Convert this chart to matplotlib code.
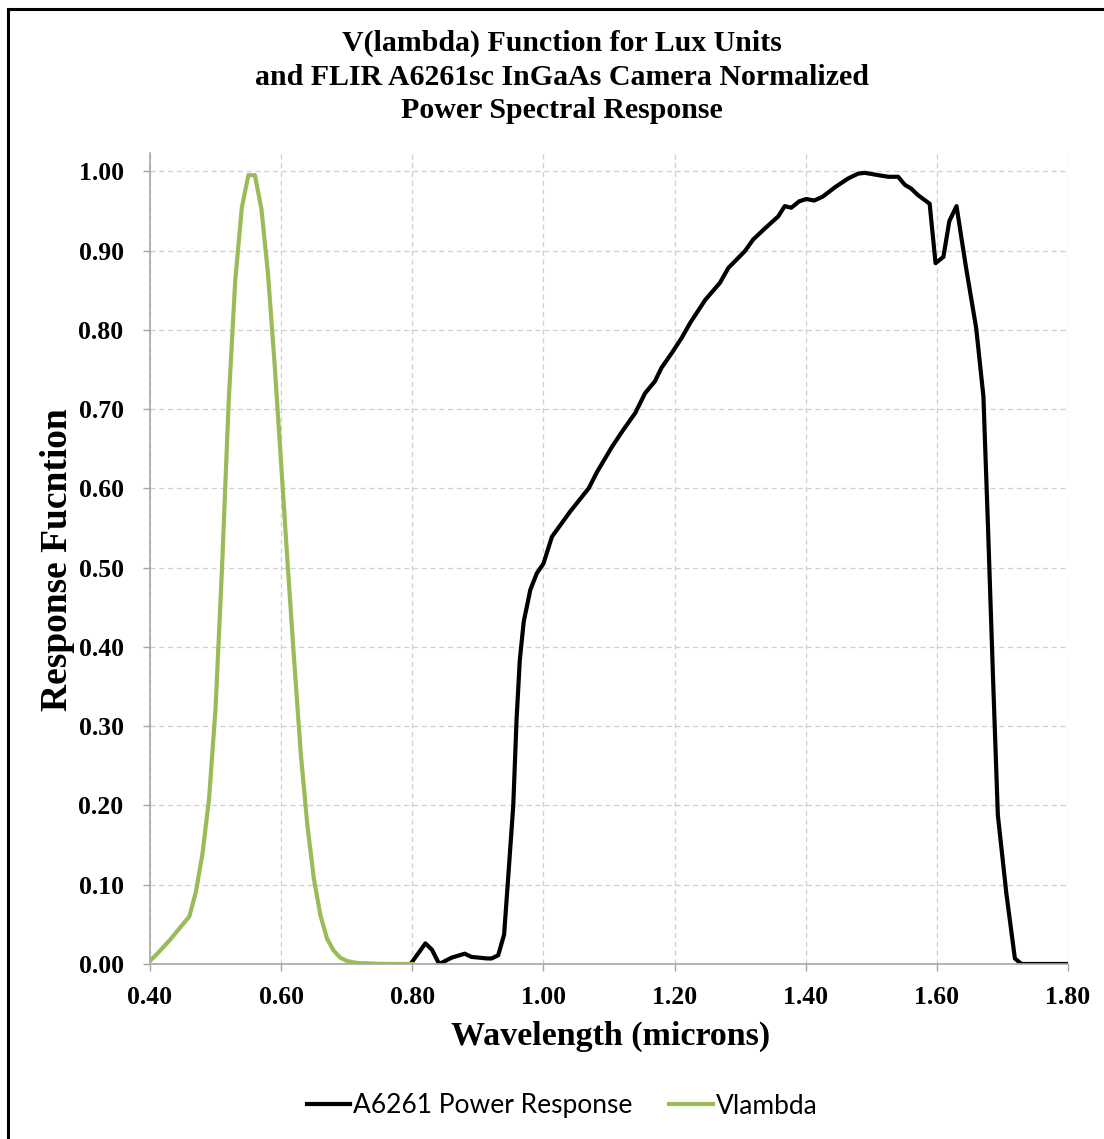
import matplotlib
matplotlib.use("Agg")
import matplotlib.pyplot as plt
from matplotlib.patches import Rectangle

# CIE photopic V(lambda), wavelength in microns
vl_wave = [0.40, 0.41, 0.42, 0.43, 0.44, 0.45, 0.46, 0.47, 0.48, 0.49,
           0.50, 0.51, 0.52, 0.53, 0.54, 0.55, 0.56, 0.57, 0.58, 0.59,
           0.60, 0.61, 0.62, 0.63, 0.64, 0.65, 0.66, 0.67, 0.68, 0.69,
           0.70, 0.71, 0.72, 0.73, 0.74, 0.75, 0.76, 0.77, 0.78, 0.79, 0.80]
vl_resp = [0.004, 0.012, 0.021, 0.030, 0.040, 0.050, 0.060, 0.091, 0.139, 0.208,
           0.323, 0.503, 0.710, 0.862, 0.954, 0.995, 0.995, 0.952, 0.870, 0.757,
           0.631, 0.503, 0.381, 0.265, 0.175, 0.107, 0.061, 0.032, 0.017, 0.008,
           0.004, 0.002, 0.001, 0.001, 0.0005, 0.0002, 0.0001, 0.0, 0.0, 0.0, 0.0]

# FLIR A6261 normalized power response
cam_wave = [0.800, 0.820, 0.830, 0.841, 0.860, 0.880, 0.890, 0.914, 0.921, 0.931,
            0.940, 0.946, 0.954, 0.959, 0.964, 0.970, 0.980, 0.990, 1.000, 1.013,
            1.041, 1.069, 1.082, 1.105, 1.122, 1.140, 1.155, 1.170, 1.180, 1.196,
            1.211, 1.224, 1.247, 1.269, 1.282, 1.307, 1.320, 1.338, 1.358, 1.368,
            1.378, 1.390, 1.401, 1.413, 1.426, 1.445, 1.465, 1.480, 1.490, 1.511,
            1.526, 1.541, 1.551, 1.561, 1.571, 1.589, 1.598, 1.610, 1.619, 1.630,
            1.644, 1.660, 1.671, 1.678, 1.686, 1.693, 1.706, 1.719, 1.729, 1.800]
cam_resp = [0.003, 0.026, 0.018, 0.000, 0.008, 0.013, 0.009, 0.007, 0.007, 0.011,
            0.037, 0.106, 0.200, 0.308, 0.384, 0.432, 0.472, 0.493, 0.505, 0.539,
            0.571, 0.600, 0.621, 0.653, 0.674, 0.695, 0.720, 0.735, 0.752, 0.771,
            0.790, 0.809, 0.838, 0.859, 0.878, 0.899, 0.914, 0.928, 0.943, 0.956,
            0.954, 0.962, 0.965, 0.963, 0.968, 0.980, 0.991, 0.997, 0.998, 0.995,
            0.993, 0.993, 0.983, 0.978, 0.970, 0.959, 0.884, 0.892, 0.937, 0.956,
            0.881, 0.802, 0.716, 0.551, 0.353, 0.188, 0.089, 0.007, 0.000, 0.000]

x_ticks = [0.40, 0.60, 0.80, 1.00, 1.20, 1.40, 1.60, 1.80]
y_ticks = [0.00, 0.10, 0.20, 0.30, 0.40, 0.50, 0.60, 0.70, 0.80, 0.90, 1.00]

W, H = 1104, 1139
fig = plt.figure(figsize=(W / 100, H / 100), dpi=100)

# outer chart frame (runs off the right and bottom edges)
fig.patches.append(Rectangle((8 / W, -10 / H), (W + 20) / W, (H + 1) / H,
                             transform=fig.transFigure, fill=False,
                             edgecolor="black", lw=2.2, clip_on=False))

ax = fig.add_axes([150 / W, (H - 964) / H, (1068 - 150) / W, (964 - 153) / H])

serif = "Liberation Serif"
grey = "#a6a6a6"

ax.plot(cam_wave, cam_resp, color="black", lw=3.0, label="A6261 Power Response")
ax.plot(vl_wave, vl_resp, color="#9bbb59", lw=3.0, label="Vlambda")

ax.set_xlim(0.40, 1.80)
ax.set_ylim(0.0, 1.023)
ax.set_xticks(x_ticks)
ax.set_yticks(y_ticks)
ax.set_xticklabels([f"{v:.2f}" for v in x_ticks], fontfamily=serif,
                   fontweight="bold", fontsize=18.5)
ax.set_yticklabels([f"{v:.2f}" for v in y_ticks], fontfamily=serif,
                   fontweight="bold", fontsize=18.5)
ax.tick_params(axis="both", color=grey, length=5, width=1)
ax.tick_params(axis="x", pad=11)
ax.tick_params(axis="y", pad=14)
ax.grid(True, color="#cfcfcf", linestyle=(0, (4, 3)), lw=0.9)
for s in ["top", "right"]:
    ax.spines[s].set_visible(False)
for s in ["left", "bottom"]:
    ax.spines[s].set_color(grey)
    ax.spines[s].set_linewidth(1.2)

fig.text(562 / W, (H - 77) / H,
         "V(lambda) Function for Lux Units\n"
         "and FLIR A6261sc InGaAs Camera Normalized\n"
         "Power Spectral Response",
         ha="center", va="center", fontfamily=serif, fontweight="bold",
         fontsize=21.5, linespacing=1.31)
fig.text(611 / W, (H - 1036) / H, "Wavelength (microns)", ha="center",
         va="center", fontfamily=serif, fontweight="bold", fontsize=24.5)
fig.text(58 / W, (H - 560) / H, "Response Fucntion", ha="center",
         va="center", rotation=90, fontfamily=serif, fontweight="bold",
         fontsize=27)

fig.legend(loc="center", bbox_to_anchor=(562 / W, (H - 1106) / H), ncol=2,
           frameon=False, prop={"family": "Lato", "size": 19},
           handlelength=1.65, handletextpad=0.1, columnspacing=1.4)

fig.savefig("out.png", dpi=100)
